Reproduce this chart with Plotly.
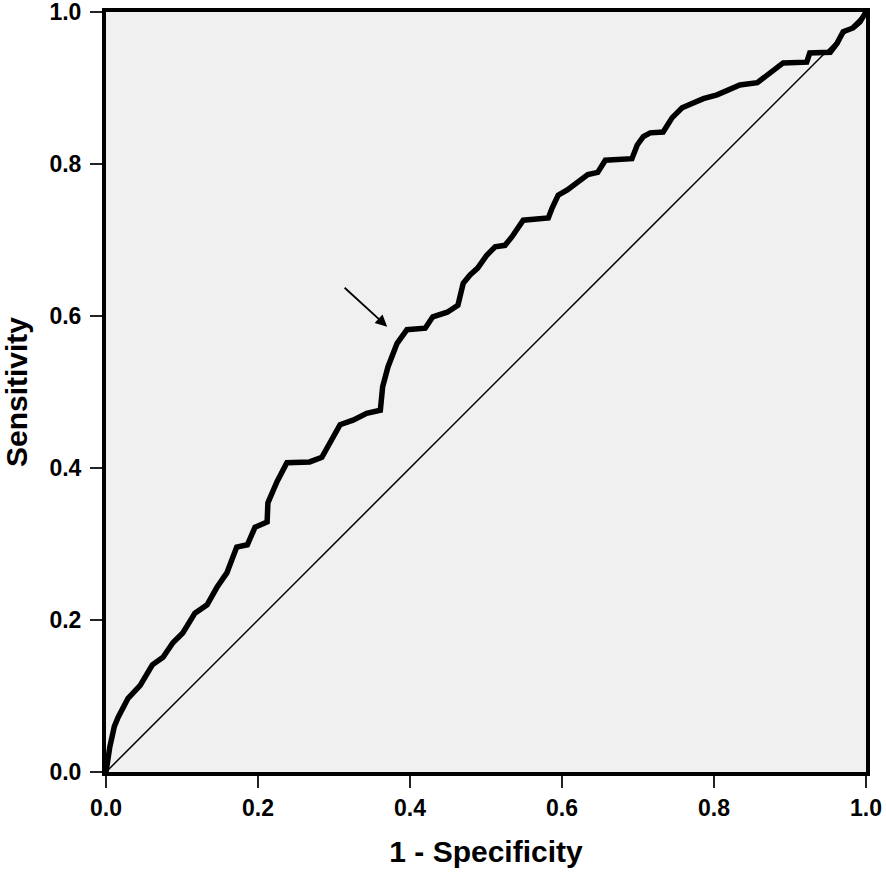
import plotly.graph_objects as go

# ROC curve points (1 - specificity, sensitivity)
fpr = [0, 0.003, 0.005, 0.011, 0.016, 0.029, 0.045, 0.061, 0.075, 0.088, 0.101,
       0.117, 0.133, 0.146, 0.159, 0.172, 0.186, 0.196, 0.212, 0.213, 0.225,
       0.238, 0.268, 0.284, 0.292, 0.308, 0.325, 0.343, 0.361, 0.364, 0.371,
       0.383, 0.396, 0.420, 0.430, 0.449, 0.463, 0.470, 0.479, 0.489, 0.501,
       0.512, 0.525, 0.534, 0.549, 0.582, 0.587, 0.595, 0.607, 0.620, 0.634,
       0.647, 0.657, 0.692, 0.699, 0.707, 0.716, 0.733, 0.745, 0.758, 0.772,
       0.786, 0.804, 0.817, 0.834, 0.857, 0.874, 0.891, 0.922, 0.926, 0.953,
       0.962, 0.970, 0.983, 0.992, 1.0]
tpr = [0, 0.020, 0.033, 0.060, 0.072, 0.097, 0.114, 0.141, 0.151, 0.170, 0.183,
       0.209, 0.220, 0.243, 0.262, 0.296, 0.299, 0.322, 0.329, 0.354, 0.382,
       0.407, 0.408, 0.414, 0.428, 0.457, 0.463, 0.472, 0.476, 0.507, 0.533,
       0.564, 0.582, 0.584, 0.599, 0.605, 0.614, 0.643, 0.654, 0.663, 0.680,
       0.691, 0.693, 0.704, 0.726, 0.729, 0.742, 0.759, 0.766, 0.775, 0.786,
       0.789, 0.805, 0.807, 0.825, 0.836, 0.841, 0.842, 0.861, 0.874, 0.880,
       0.886, 0.891, 0.897, 0.904, 0.907, 0.920, 0.933, 0.934, 0.946, 0.947,
       0.959, 0.974, 0.979, 0.987, 1.0]

ref_x = [0, 1]
ref_y = [0, 1]

tick_vals = [0.0, 0.2, 0.4, 0.6, 0.8, 1.0]
tick_text = ["0.0", "0.2", "0.4", "0.6", "0.8", "1.0"]

# arrow (tail -> head) in data coords
arrow_tail = (0.312, 0.639)
arrow_head = (0.370, 0.586)

fig = go.Figure()
fig.add_trace(go.Scatter(x=ref_x, y=ref_y, mode="lines",
                         line=dict(color="black", width=1.5), showlegend=False,
                         hoverinfo="skip"))
fig.add_trace(go.Scatter(x=fpr, y=tpr, mode="lines",
                         line=dict(color="black", width=5.5), showlegend=False))

fig.add_annotation(x=arrow_head[0], y=arrow_head[1], ax=arrow_tail[0], ay=arrow_tail[1],
                   xref="x", yref="y", axref="x", ayref="y", text="",
                   showarrow=True, arrowhead=2, arrowsize=1.3, arrowwidth=1.8,
                   arrowcolor="black")

axis_common = dict(
    range=[0, 1], tickvals=tick_vals, ticktext=tick_text,
    showgrid=False, zeroline=False, showline=True, linecolor="black",
    linewidth=4, mirror=True, ticks="outside", ticklen=12, tickwidth=2,
    tickcolor="#222222", automargin=False, ticklabeloverflow="allow",
    tickfont=dict(family="Liberation Sans", size=23, color="black", weight="bold"),
)

fig.update_layout(
    width=886, height=874,
    margin=dict(l=106, r=20, t=12, b=102),
    paper_bgcolor="white", plot_bgcolor="#f0f0f0",
    xaxis=dict(**axis_common,
               title=dict(text="1 - Specificity", standoff=22,
                          font=dict(family="Liberation Sans", size=30, color="black",
                                    weight="bold"))),
    yaxis=dict(**axis_common, ticklabelstandoff=4,
               title=dict(text="Sensitivity", standoff=24,
                          font=dict(family="Liberation Sans", size=30, color="black",
                                    weight="bold"))),
)

fig.write_html("out.html",
               config={"displayModeBar": False},
               post_script="document.body.style.margin='0px';"
                           "document.body.style.overflow='hidden';")
